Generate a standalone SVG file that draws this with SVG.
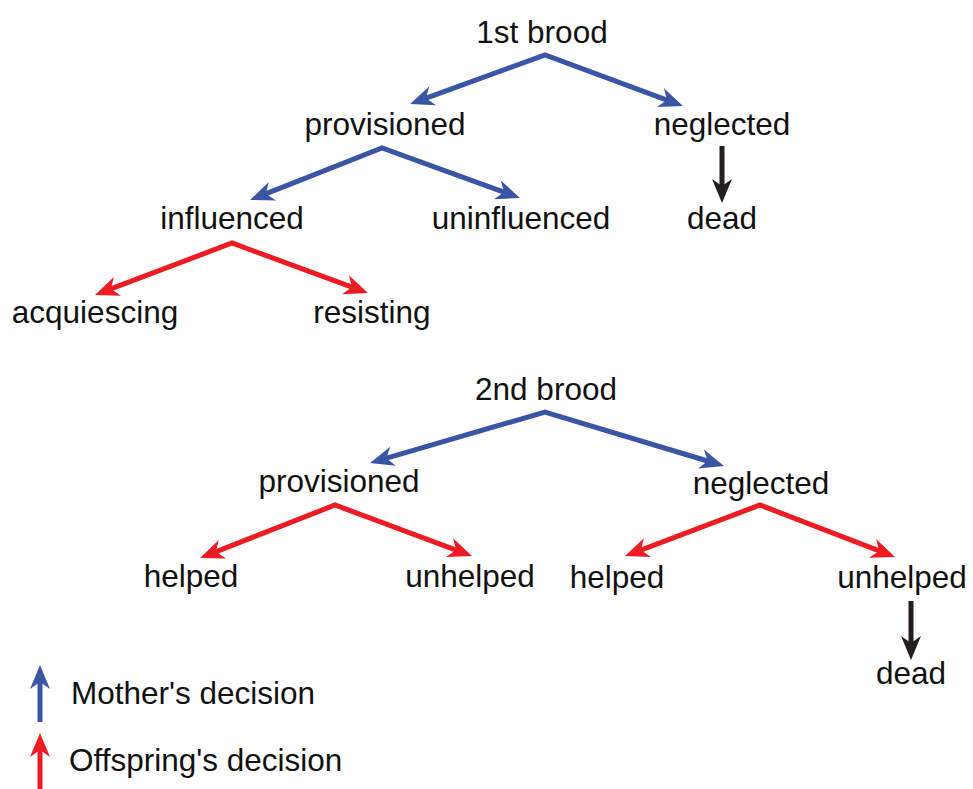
<svg xmlns="http://www.w3.org/2000/svg" width="973" height="789" viewBox="0 0 973 789">
<style>
text{font-family:"Liberation Sans",Arial,sans-serif;font-size:31.5px;fill:#111;text-anchor:middle}
.lg{text-anchor:start}
.c{fill:none;stroke-width:5;stroke-linejoin:miter;stroke-miterlimit:10}
.b{stroke:#3a54a6;marker-start:url(#mb);marker-end:url(#mb)}
.r{stroke:#ed1c24;marker-start:url(#mr);marker-end:url(#mr)}
.k{stroke:#231f20;marker-end:url(#mk)}
.b1{stroke:#3a54a6;marker-end:url(#mb)}
.r1{stroke:#ed1c24;marker-end:url(#mr)}
</style>
<defs>
<marker id="mb" markerUnits="userSpaceOnUse" viewBox="-26 -11 28 22" markerWidth="28" markerHeight="22" refX="-12" refY="0" orient="auto-start-reverse"><path d="M0,0 L-24,-10 L-17,0 L-24,10 Z" fill="#3a54a6"/></marker>
<marker id="mr" markerUnits="userSpaceOnUse" viewBox="-26 -11 28 22" markerWidth="28" markerHeight="22" refX="-12" refY="0" orient="auto-start-reverse"><path d="M0,0 L-24,-10 L-17,0 L-24,10 Z" fill="#ed1c24"/></marker>
<marker id="mk" markerUnits="userSpaceOnUse" viewBox="-26 -11 28 22" markerWidth="28" markerHeight="22" refX="-12" refY="0" orient="auto-start-reverse"><path d="M0,0 L-24,-10 L-17,0 L-24,10 Z" fill="#231f20"/></marker>
</defs>
<g id="connectors">
<path class="c b" d="M421.3,99.9 L545,55 L671.7,101.8"/>
<path class="c b" d="M261.2,195.6 L382,148 L508.7,193.9"/>
<path class="c k" d="M722,146 L722,191"/>
<path class="c r" d="M106.2,290.7 L232,243 L356.7,288.9"/>
<path class="c b" d="M381.5,459.6 L545,412 L712.5,462.5"/>
<path class="c r" d="M211.2,553.6 L335,505 L460.8,551.8"/>
<path class="c r" d="M636.2,551.8 L760,505 L883.8,552.7"/>
<path class="c k" d="M911,601 L911,648"/>
<path class="c b1" d="M40,722 L40,677"/>
<path class="c r1" d="M40,789 L40,745"/>
</g>
<g id="n1st"><text x="542" y="43">1st brood</text></g>
<g id="nprov1"><text x="385" y="135">provisioned</text></g>
<g id="nneg1"><text x="722" y="135">neglected</text></g>
<g id="ninfl"><text x="232" y="229">influenced</text></g>
<g id="nuninfl"><text x="521" y="229">uninfluenced</text></g>
<g id="ndead1"><text x="722" y="229">dead</text></g>
<g id="nacq"><text x="95" y="323">acquiescing</text></g>
<g id="nres"><text x="372" y="323">resisting</text></g>
<g id="n2nd"><text x="546" y="400">2nd brood</text></g>
<g id="nprov2"><text x="339" y="492">provisioned</text></g>
<g id="nneg2"><text x="761" y="494">neglected</text></g>
<g id="nhelp1"><text x="191" y="587">helped</text></g>
<g id="nunhelp1"><text x="470" y="587">unhelped</text></g>
<g id="nhelp2"><text x="617" y="588">helped</text></g>
<g id="nunhelp2"><text x="902" y="588">unhelped</text></g>
<g id="ndead2"><text x="911" y="684">dead</text></g>
<g id="legend"><text class="lg" x="71" y="704">Mother's decision</text><text class="lg" x="69" y="771">Offspring's decision</text></g>
</svg>
